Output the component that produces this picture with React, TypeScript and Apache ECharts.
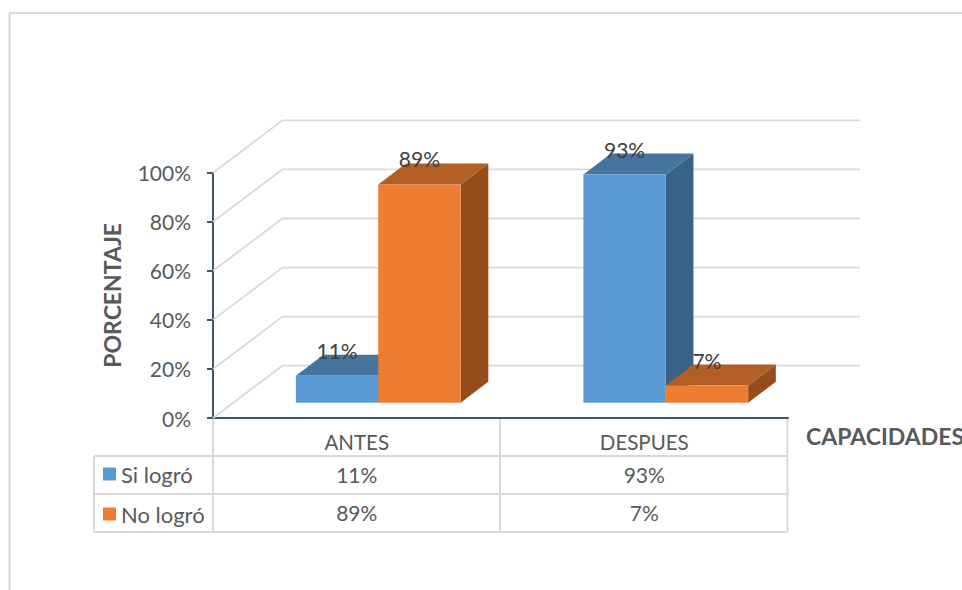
import React, { useEffect, useRef } from "react";
import * as echarts from "echarts";

const categories = ["ANTES", "DESPUES"];
const siLogro = [11, 93];
const noLogro = [89, 7];
const yTicks = [0, 20, 40, 60, 80, 100];
const seriesNames = ["Si logró", "No logró"];

const FONT = "Lato";
const TEXT = "#595959";
const GRID = "#d9d9d9";
const AXIS = "#44546a";
const BLUE = { front: "#5b9bd5", top: "#44759f", side: "#386387" };
const ORANGE = { front: "#ed7d31", top: "#b25e24", side: "#954e1b" };

const WALL_DX = 69.5, WALL_DY = -52.3;
const FLOOR_DX = 21.5, FLOOR_DY = -15.3;
const DEPTH_DX = 27.7, DEPTH_DY = -21;
const BAR_W = 0.2865;

function barSeries(name: string, values: number[], c: typeof BLUE, slot: number) {
  return {
    name,
    type: "custom",
    z: 3 + slot,
    itemStyle: { color: c.front },
    data: values.map((v, i) => [i, v]),
    encode: { x: 0, y: 1 },
    renderItem: (_p: any, api: any) => {
      const [cx, yTop] = api.coord([api.value(0), api.value(1)]);
      const [, yBase] = api.coord([api.value(0), 0]);
      const w = api.size([1, 0])[0] * BAR_W;
      const x0 = cx + FLOOR_DX + (slot === 0 ? -w : 0);
      const x1 = x0 + w;
      const b = yBase + FLOOR_DY;
      const t = yTop + FLOOR_DY;
      const poly = (pts: number[][], fill: string) => ({
        type: "polygon",
        shape: { points: pts },
        style: { fill },
      });
      return {
        type: "group",
        children: [
          poly([[x1, b], [x1 + DEPTH_DX, b + DEPTH_DY], [x1 + DEPTH_DX, t + DEPTH_DY], [x1, t]], c.side),
          poly([[x0, t], [x0 + DEPTH_DX, t + DEPTH_DY], [x1 + DEPTH_DX, t + DEPTH_DY], [x1, t]], c.top),
          poly([[x0, b], [x0, t], [x1, t], [x1, b]], c.front),
          {
            type: "text",
            z2: 10,
            style: {
              x: (x0 + x1) / 2,
              y: t - 25.5,
              text: api.value(1) + "%",
              fill: "#404040",
              font: `21px ${FONT}`,
              textAlign: "center",
              textVerticalAlign: "middle",
            },
          },
        ],
      };
    },
  };
}

const wallSeries = {
  type: "custom",
  z: 1,
  silent: true,
  data: yTicks.map((v) => [0, v]),
  encode: { x: 0, y: 1 },
  renderItem: (p: any, api: any) => {
    const left = p.coordSys.x;
    const y = api.coord([0, api.value(1)])[1];
    return {
      type: "polyline",
      shape: {
        points: [
          [left, y],
          [left + WALL_DX, y + WALL_DY],
          [860, y + WALL_DY],
        ],
      },
      style: { stroke: GRID, lineWidth: 1.8, fill: "none" },
    };
  },
};

const tableSeries = {
  type: "custom",
  z: 4,
  silent: true,
  data: categories.map((_, i) => [i, siLogro[i], noLogro[i]]),
  encode: { x: 0 },
  renderItem: (_p: any, api: any) => {
    const x = api.coord([api.value(0), 0])[0];
    const cell = (v: number, y: number) => ({
      type: "text",
      style: {
        x,
        y,
        text: v + "%",
        fill: TEXT,
        font: `21px ${FONT}`,
        textAlign: "center",
        textVerticalAlign: "middle",
      },
    });
    return {
      type: "group",
      children: [cell(api.value(1), 474.5), cell(api.value(2), 512.5)],
    };
  },
};

const hLine = (x1: number, x2: number, y: number, color = GRID, w = 2) => ({
  type: "line",
  z: 0,
  shape: { x1, y1: y, x2, y2: y },
  style: { stroke: color, lineWidth: w },
});
const vLine = (x: number, y1: number, y2: number, color = GRID, w = 2) => ({
  type: "line",
  z: 0,
  shape: { x1: x, y1, x2: x, y2 },
  style: { stroke: color, lineWidth: w },
});

export default function App() {
  const ref = useRef<HTMLDivElement>(null);
  useEffect(() => {
    document.body.style.margin = "0";
    const chart = echarts.init(ref.current!, null, { renderer: "svg" });
    chart.setOption({
      animation: false,
      backgroundColor: "#ffffff",
      grid: { left: 213, top: 172.7, width: 575, height: 245.3, containLabel: false, outerBoundsMode: "none" },
      legend: {
        data: seriesNames,
        orient: "vertical",
        left: 98,
        top: 458,
        selectedMode: false,
        icon: "rect",
        itemWidth: 13,
        itemHeight: 13,
        itemGap: 18,
        textStyle: { color: TEXT, fontFamily: FONT, fontSize: 22, lineHeight: 20 },
      },
      xAxis: {
        type: "category",
        data: categories,
        name: "CAPACIDADES",
        nameLocation: "end",
        nameGap: 18,
        nameTextStyle: {
          color: TEXT,
          fontFamily: FONT,
          fontSize: 23,
          fontWeight: "bold",
          verticalAlign: "top",
          lineHeight: 36,
        },
        axisLine: { show: true, lineStyle: { color: AXIS, width: 2 } },
        axisTick: { show: false },
        axisLabel: { color: TEXT, fontFamily: FONT, fontSize: 20.5, margin: 13 },
        splitLine: { show: false },
      },
      yAxis: {
        type: "value",
        min: 0,
        max: 100,
        interval: 20,
        name: "PORCENTAJE",
        nameLocation: "middle",
        nameGap: 90,
        nameTextStyle: { color: TEXT, fontFamily: FONT, fontSize: 23, fontWeight: "bold" },
        axisLine: { show: true, lineStyle: { color: AXIS, width: 2 } },
        axisTick: { show: true, inside: false, length: 6, lineStyle: { color: AXIS, width: 2 } },
        axisLabel: {
          color: TEXT,
          fontFamily: FONT,
          fontSize: 21,
          margin: 22,
          formatter: (v: number) => v + "%",
        },
        splitLine: { show: false },
      },
      graphic: [
        hLine(9, 962, 13),
        vLine(9.5, 13, 590),
        vLine(213, 419, 532),
        vLine(500, 419, 532),
        vLine(787.5, 419, 532),
        hLine(94, 788, 456),
        hLine(94, 788, 494),
        hLine(94, 788, 532),
        vLine(94, 456, 532),
      ],
      series: [
        wallSeries,
        barSeries(seriesNames[0], siLogro, BLUE, 0),
        barSeries(seriesNames[1], noLogro, ORANGE, 1),
        tableSeries,
      ],
    });
    return () => chart.dispose();
  }, []);
  return <div ref={ref} style={{ position: "absolute", left: 0, top: 0, width: 962, height: 590 }} />;
}
